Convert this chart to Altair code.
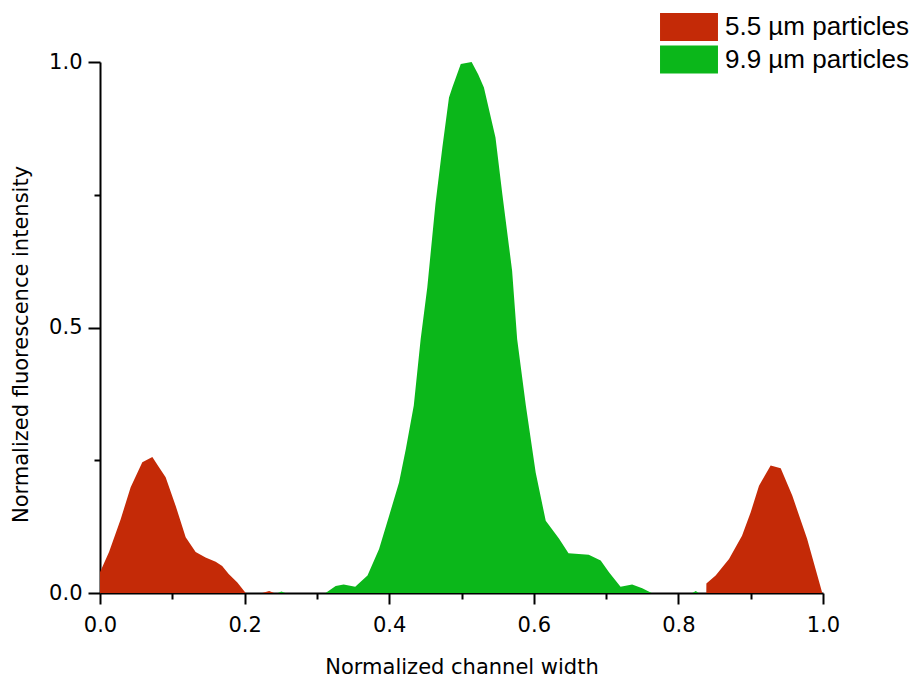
import altair as alt
import pandas as pd

# ---- data ----
red_left_x = [0.0, 0.0125, 0.0286, 0.0424, 0.0585, 0.0724, 0.0816, 0.0908, 0.1047, 0.1185,
              0.1323, 0.146, 0.16, 0.169, 0.178, 0.19, 0.2015]
red_left_y = [0.039, 0.077, 0.139, 0.199, 0.246, 0.256, 0.237, 0.218, 0.164, 0.105,
              0.077, 0.067, 0.059, 0.051, 0.036, 0.020, 0.0]

red_bump_x = [0.2245, 0.234, 0.2407]
red_bump_y = [0.0, 0.004, 0.0]

red_right_x = [0.8386, 0.8387, 0.8515, 0.870, 0.888, 0.900, 0.9115, 0.9276, 0.9415, 0.9576, 0.978, 0.999]
red_right_y = [0.0, 0.018, 0.033, 0.064, 0.108, 0.152, 0.202, 0.240, 0.235, 0.183, 0.102, 0.0]

green_bump1_x = [0.246, 0.251, 0.256]
green_bump1_y = [0.0, 0.003, 0.0]

green_main_x = [0.312, 0.326, 0.337, 0.353, 0.370, 0.386, 0.400, 0.4136, 0.423, 0.434, 0.4435,
                0.4527, 0.464, 0.4735, 0.4827, 0.4873, 0.499, 0.514, 0.523, 0.531, 0.547,
                0.5565, 0.570, 0.577, 0.589, 0.6026, 0.6165, 0.635, 0.648, 0.676, 0.6925,
                0.704, 0.720, 0.736, 0.750, 0.763]
green_main_y = [0.0, 0.013, 0.016, 0.012, 0.033, 0.083, 0.146, 0.208, 0.271, 0.353, 0.478,
                0.576, 0.733, 0.839, 0.933, 0.952, 0.996, 1.0, 0.977, 0.952, 0.858,
                0.751, 0.607, 0.478, 0.353, 0.227, 0.136, 0.102, 0.075, 0.072, 0.061,
                0.039, 0.012, 0.016, 0.009, 0.0]

green_bump2_x = [0.8195, 0.824, 0.828]
green_bump2_y = [0.0, 0.004, 0.0]

series_names = ["5.5 µm particles", "9.9 µm particles"]
series_colors = ["#C42A07", "#0BB71A"]

x_ticks = [0.0, 0.1, 0.2, 0.3, 0.4, 0.5, 0.6, 0.7, 0.8, 0.9, 1.0]
y_ticks = [0.0, 0.25, 0.5, 0.75, 1.0]

rows = []
segments = [
    (series_names[0], "r1", red_left_x, red_left_y),
    (series_names[0], "r2", red_bump_x, red_bump_y),
    (series_names[0], "r3", red_right_x, red_right_y),
    (series_names[1], "g1", green_bump1_x, green_bump1_y),
    (series_names[1], "g2", green_main_x, green_main_y),
    (series_names[1], "g3", green_bump2_x, green_bump2_y),
]
for name, seg, xs, ys in segments:
    for xv, yv in zip(xs, ys):
        rows.append({"series": name, "seg": seg, "px": xv, "py": yv})
df = pd.DataFrame(rows)

axis_font = "DejaVu Sans"

x_axis = alt.Axis(
    values=x_ticks,
    labelExpr="round(datum.value*10) % 2 == 0 ? format(datum.value, '.1f') : ''",
    tickSize={"condition": {"test": "round(datum.value*10) % 2 == 1", "value": 6}, "value": 11},
    labelPadding=10,
    labelFont=axis_font, labelFontSize=21, labelColor="black",
    labelOverlap=False, labelFlush=False,
    title="Normalized channel width",
    titleFont=axis_font, titleFontSize=21, titleFontWeight="normal", titleColor="black",
    titleBaseline="alphabetic", titleY=80, titleX=361.5, titleAlign="center",
    domainColor="black", domainWidth=2, tickColor="black", tickWidth=2,
    grid=False,
)

y_axis = alt.Axis(
    values=y_ticks,
    labelExpr="round(datum.value*4) % 2 == 0 ? format(datum.value, '.1f') : ''",
    tickSize={"condition": {"test": "round(datum.value*4) % 2 == 1", "value": 6}, "value": 12},
    labelPadding=6,
    labelFont=axis_font, labelFontSize=21, labelColor="black",
    labelOverlap=False, labelFlush=False,
    title="Normalized fluorescence intensity",
    titleFont=axis_font, titleFontSize=21, titleFontWeight="normal", titleColor="black",
    titleAngle=270, titleBaseline="alphabetic", titleX=-73, titleY=282, titleAlign="center",
    domainColor="black", domainWidth=2, tickColor="black", tickWidth=2,
    grid=False,
)

legend = alt.Legend(
    orient="none", legendX=575, legendY=-49,
    title=None, padding=0,
    symbolType="M-2.07,-1H2.07V1H-2.07Z", symbolSize=784,
    symbolStrokeWidth=0, symbolOpacity=1,
    labelFont="Liberation Sans", labelFontSize=26, labelColor="black",
    labelOffset=22, rowPadding=4.5, labelLimit=400,
)

chart = alt.Chart(df).mark_area(opacity=1).encode(
    x=alt.X("px:Q", scale=alt.Scale(domain=[0, 1], nice=False, zero=False), axis=x_axis),
    y=alt.Y("py:Q", scale=alt.Scale(domain=[0, 1], nice=False), axis=y_axis, stack=None),
    color=alt.Color("series:N", scale=alt.Scale(domain=series_names, range=series_colors),
                    legend=legend),
    detail="seg:N",
).properties(
    width=723, height=531,
    autosize=alt.AutoSizeParams(type="none"),
    padding={"left": 92, "top": 54, "right": 89, "bottom": 86},
).configure(background="white").configure_view(stroke=None)

chart.save("out.html", embed_options={"renderer": "svg", "actions": False})
